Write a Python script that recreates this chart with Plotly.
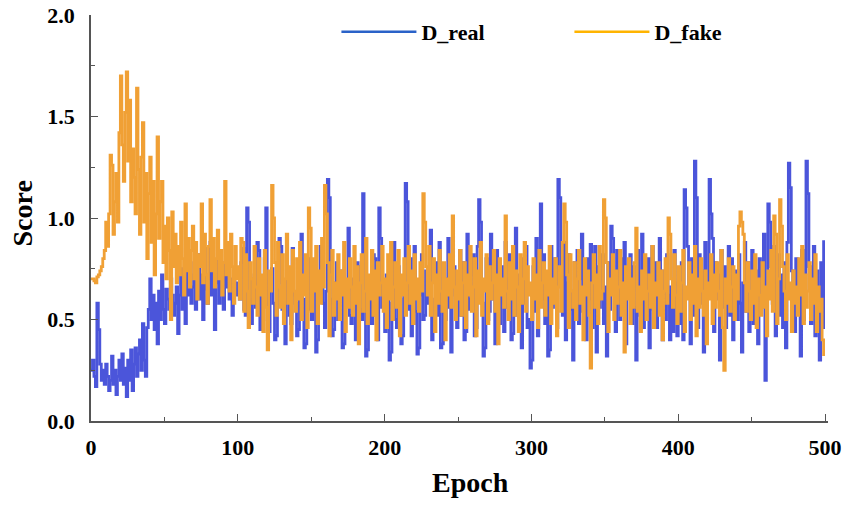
import plotly.graph_objects as go

epochs = list(range(500))

d_real = [
    0.25, 0.30, 0.22, 0.17, 0.58, 0.45, 0.28, 0.20, 0.25, 0.18,
    0.28, 0.22, 0.15, 0.20, 0.32, 0.18, 0.25, 0.13, 0.22, 0.30,
    0.20, 0.33, 0.18, 0.26, 0.12, 0.30, 0.20, 0.35, 0.15, 0.28,
    0.36, 0.22, 0.33, 0.40, 0.25, 0.48, 0.30, 0.22, 0.46, 0.55,
    0.70, 0.50, 0.62, 0.45, 0.58, 0.38, 0.64, 0.50, 0.72, 0.55,
    0.48, 0.65, 0.60, 0.55, 0.70, 0.62, 0.52, 0.58, 0.66, 0.43,
    0.62, 0.75, 0.55, 0.70, 0.48, 0.80, 0.62, 0.72, 0.58, 0.66,
    0.78, 0.55, 0.68, 0.82, 0.60, 0.72, 0.50, 0.85, 0.65, 0.58,
    0.70, 0.88, 0.62, 0.75, 0.45, 0.68, 0.80, 0.58, 0.72, 0.64,
    0.55, 0.78, 0.66, 0.85, 0.60, 0.70, 0.52, 0.75, 0.62, 0.68,
    0.62, 0.60, 0.78, 0.85, 0.55, 0.52, 1.05, 0.98, 0.60, 0.48,
    0.70, 0.72, 0.56, 0.88, 0.84, 0.45, 0.62, 0.66, 0.80, 1.05,
    0.50, 0.44, 0.72, 0.75, 0.58, 0.40, 0.42, 0.68, 0.90, 0.86,
    0.55, 0.60, 0.38, 0.70, 0.74, 0.52, 0.48, 0.85, 0.62, 0.58,
    0.42, 0.45, 0.76, 0.92, 0.60, 0.36, 0.38, 0.66, 0.80, 0.55,
    0.50, 0.72, 0.70, 0.34, 0.40, 0.62, 0.86, 0.82, 0.58, 0.46,
    0.64, 1.19, 1.10, 0.60, 0.42, 0.45, 0.68, 0.78, 0.50, 0.56,
    0.74, 0.36, 0.38, 0.62, 0.66, 0.95, 0.52, 0.48, 0.70, 0.58,
    0.40, 0.78, 0.76, 0.55, 0.50, 1.12, 0.84, 0.32, 0.35, 0.64,
    0.68, 0.48, 0.82, 0.80, 0.52, 0.40, 1.05, 0.90, 0.56, 0.62,
    0.44, 0.72, 0.70, 0.30, 0.34, 0.58, 0.88, 0.50, 0.46, 0.76,
    0.60, 0.38, 0.42, 0.68, 1.17, 1.08, 0.55, 0.80, 0.42, 0.48,
    0.86, 0.54, 0.33, 0.36, 0.62, 0.82, 0.50, 0.52, 0.74, 0.58,
    0.66, 0.94, 0.40, 0.44, 0.60, 0.78, 0.52, 0.88, 0.36, 0.38,
    0.70, 0.50, 0.66, 0.90, 0.56, 0.34, 0.80, 0.76, 0.62, 0.46,
    0.64, 0.84, 0.52, 0.78, 0.40, 0.44, 0.92, 0.55, 0.60, 0.72,
    0.82, 0.42, 0.46, 0.86, 1.09, 0.98, 0.58, 0.32, 0.36, 0.80,
    0.50, 0.54, 0.92, 0.60, 0.74, 0.38, 0.84, 0.62, 0.48, 0.76,
    0.58, 0.44, 0.88, 0.56, 0.70, 0.82, 0.40, 0.43, 0.62, 0.95,
    0.52, 0.72, 0.66, 0.36, 0.80, 0.58, 0.86, 0.46, 0.50, 0.26,
    0.30, 0.76, 0.54, 0.90, 0.42, 0.70, 1.07, 0.60, 0.82, 0.48,
    0.66, 0.32, 0.35, 0.86, 0.56, 0.62, 0.80, 0.46, 1.19, 1.10,
    0.72, 0.52, 0.88, 0.40, 0.68, 0.82, 0.55, 0.64, 0.30, 0.78,
    0.58, 0.84, 0.48, 0.70, 0.92, 0.54, 0.66, 0.40, 0.80, 0.60,
    0.87, 0.46, 0.68, 0.86, 0.34, 0.76, 0.56, 0.62, 0.82, 0.48,
    0.66, 0.32, 0.78, 0.55, 0.96, 0.90, 0.72, 0.44, 0.84, 0.64,
    0.50, 0.80, 0.58, 0.88, 0.38, 0.70, 0.62, 0.82, 0.48, 0.76,
    0.56, 0.30, 0.84, 0.66, 0.52, 0.92, 0.46, 0.72, 0.60, 0.80,
    0.36, 0.68, 0.86, 0.55, 0.78, 0.46, 0.64, 0.90, 0.58, 0.40,
    0.74, 0.50, 0.82, 0.62, 0.40, 0.66, 0.44, 0.84, 0.56, 0.42,
    0.68, 0.48, 0.78, 0.40, 1.14, 1.05, 0.86, 0.62, 0.38, 0.80,
    0.52, 1.28, 1.10, 0.46, 0.82, 0.58, 0.74, 0.34, 0.88, 0.50,
    0.64, 1.19, 1.02, 0.90, 0.44, 0.78, 0.60, 0.72, 0.30, 0.84,
    0.56, 0.76, 0.46, 0.66, 0.86, 0.52, 0.80, 0.40, 0.62, 0.74,
    0.50, 0.82, 0.58, 0.34, 0.68, 0.88, 0.54, 0.78, 0.44, 0.64,
    0.84, 0.48, 0.74, 0.60, 0.38, 0.80, 0.56, 0.70, 0.92, 0.20,
    0.62, 1.07, 0.98, 0.76, 0.58, 0.86, 0.42, 0.66, 0.82, 0.52,
    0.72, 0.46, 0.78, 0.36, 0.88, 1.27, 1.15, 0.74, 0.62, 0.44,
    0.80, 0.56, 0.70, 0.32, 0.84, 0.50, 0.64, 1.28, 1.12, 0.76,
    0.48, 0.68, 0.86, 0.42, 0.74, 0.55, 0.30, 0.78, 0.46, 0.89,
]

d_fake = [
    0.70, 0.70, 0.69, 0.68, 0.71, 0.72, 0.74, 0.76, 0.80, 0.84,
    0.98, 0.86, 1.02, 1.31, 1.26, 0.92, 1.08, 1.22, 0.98, 1.42,
    1.70, 1.36, 1.18, 1.52, 1.72, 1.28, 1.58, 1.08, 1.34, 1.20,
    1.02, 1.64, 1.24, 0.92, 1.30, 1.47, 0.98, 1.22, 0.80, 1.12,
    1.30, 0.88, 1.18, 0.72, 1.02, 1.40, 0.90, 1.08, 1.18, 0.78,
    0.96, 0.70, 1.00, 0.84, 0.50, 1.03, 0.76, 0.92, 0.68, 0.86,
    0.72, 0.98, 0.80, 0.62, 1.07, 0.74, 0.90, 0.66, 0.84, 0.96,
    0.70, 0.88, 0.60, 0.82, 0.76, 1.07, 0.68, 0.92, 0.72, 0.58,
    0.86, 1.09, 0.74, 0.90, 0.66, 0.80, 0.94, 0.70, 0.84, 0.62,
    0.78, 1.18, 0.72, 0.88, 0.64, 0.92, 0.76, 0.58, 0.86, 0.70,
    0.76, 0.60, 0.90, 0.88, 0.54, 0.82, 0.64, 0.46, 0.78, 0.70,
    0.58, 0.86, 0.66, 0.52, 0.80, 0.62, 0.72, 0.44, 0.84, 0.56,
    0.35, 0.74, 0.64, 1.16, 1.00, 0.78, 0.52, 0.88, 0.66, 0.56,
    0.82, 0.48, 0.70, 0.92, 0.58, 0.76, 0.40, 0.84, 0.64, 0.54,
    0.80, 0.60, 0.88, 0.50, 0.72, 0.62, 0.82, 0.46, 1.05, 0.95,
    0.54, 0.80, 0.64, 0.86, 0.48, 0.74, 0.58, 0.90, 0.66, 1.16,
    1.02, 0.78, 0.42, 0.72, 0.84, 0.52, 0.68, 0.60, 0.82, 0.50,
    0.74, 0.62, 0.88, 0.44, 0.70, 0.56, 0.80, 0.66, 0.52, 0.86,
    0.58, 0.76, 0.38, 0.68, 0.82, 0.54, 0.64, 0.90, 0.48, 0.72,
    0.60, 0.84, 0.52, 0.74, 0.40, 0.78, 0.62, 0.68, 0.86, 0.54,
    0.70, 0.46, 0.82, 0.60, 0.88, 0.50, 0.66, 0.78, 0.56, 0.84,
    0.42, 0.72, 0.62, 0.80, 0.52, 0.68, 0.86, 0.58, 0.74, 0.48,
    0.82, 0.60, 0.70, 0.54, 0.78, 0.64, 1.12, 0.98, 0.76, 0.62,
    0.86, 0.52, 0.68, 0.80, 0.44, 0.72, 0.58, 0.84, 0.64, 0.54,
    0.78, 0.40, 0.70, 0.62, 0.82, 0.56, 1.01, 0.66, 0.50, 0.74,
    0.60, 0.84, 0.52, 0.68, 0.78, 0.46, 0.72, 0.62, 0.86, 0.54,
    0.66, 0.80, 0.42, 0.74, 0.58, 0.88, 0.52, 0.70, 0.64, 0.82,
    0.48, 0.76, 0.60, 0.68, 0.84, 0.54, 0.72, 0.38, 0.80, 0.62,
    0.70, 0.56, 1.01, 0.64, 0.50, 0.78, 0.60, 0.86, 0.52, 0.74,
    0.66, 0.44, 0.82, 0.58, 0.70, 0.88, 0.54, 0.76, 0.62, 0.68,
    0.50, 0.80, 0.60, 0.72, 0.46, 0.84, 0.56, 0.68, 0.78, 0.52,
    0.74, 0.62, 0.86, 0.48, 0.70, 0.58, 0.80, 0.42, 0.66, 0.76,
    0.54, 0.88, 1.07, 0.98, 0.72, 0.46, 0.82, 0.64, 0.56, 0.78,
    0.50, 0.70, 0.84, 0.58, 0.66, 0.40, 0.80, 0.62, 0.74, 0.52,
    0.26, 0.68, 0.82, 0.56, 0.72, 0.48, 0.86, 0.60, 0.64, 1.09,
    1.00, 0.78, 0.44, 0.70, 0.62, 0.82, 0.50, 0.74, 0.58, 0.66,
    0.84, 0.52, 0.68, 0.34, 0.76, 0.60, 0.80, 0.48, 0.70, 0.56,
    0.78, 0.95, 0.54, 0.66, 0.44, 0.74, 0.60, 0.82, 0.50, 0.64,
    0.72, 0.56, 0.86, 0.46, 0.68, 0.62, 0.78, 0.52, 0.74, 0.40,
    0.64, 0.80, 0.58, 1.00, 0.92, 0.70, 0.56, 0.82, 0.62, 0.48,
    0.76, 0.54, 0.68, 0.84, 0.44, 0.66, 0.60, 0.78, 0.50, 0.72,
    0.58, 0.86, 0.42, 0.70, 0.56, 0.80, 0.64, 0.52, 0.74, 0.38,
    0.68, 0.60, 0.82, 0.48, 0.72, 0.56, 0.78, 0.64, 0.52, 0.84,
    0.46, 0.25, 0.70, 0.58, 0.80, 0.54, 0.66, 0.76, 0.50, 0.72,
    0.60, 0.96, 1.03, 0.98, 0.92, 0.68, 0.54, 0.78, 0.64, 0.50,
    0.74, 0.58, 0.82, 0.46, 0.70, 0.62, 0.52, 0.78, 0.56, 0.66,
    0.42, 0.74, 0.60, 0.84, 0.54, 1.01, 0.92, 0.48, 0.70, 1.09,
    0.96, 0.76, 0.64, 0.50, 0.82, 0.60, 0.68, 0.44, 0.74, 0.58,
    0.66, 0.52, 0.80, 0.62, 0.86, 0.48, 0.72, 0.56, 0.64, 0.78,
    0.50, 0.70, 0.58, 0.82, 0.44, 0.66, 0.54, 0.60, 0.40, 0.32,
]

x_ticks = [0, 100, 200, 300, 400, 500]
y_ticks = [0.0, 0.5, 1.0, 1.5, 2.0]

BLUE_LINE = "#4b55da"
ORANGE_LINE = "#f0a035"
BLUE_LEG = "#2a62c8"
ORANGE_LEG = "#ffb400"
FONT = "Liberation Serif"

fig = go.Figure()
fig.add_trace(go.Scatter(x=epochs, y=d_real, mode="lines", line=dict(color=BLUE_LINE, width=2.8, shape="hv"),
                         showlegend=False))
fig.add_trace(go.Scatter(x=epochs, y=d_fake, mode="lines", line=dict(color=ORANGE_LINE, width=2.8, shape="hv"),
                         showlegend=False))
fig.add_trace(go.Scatter(x=[None], y=[None], mode="lines", name="D_real", line=dict(color=BLUE_LEG, width=2.5)))
fig.add_trace(go.Scatter(x=[None], y=[None], mode="lines", name="D_fake", line=dict(color=ORANGE_LEG, width=2.5)))

axis_common = dict(
    showline=True, linecolor="#555555", linewidth=1.5, mirror=False,
    showgrid=False, zeroline=False, automargin=False,
    ticks="inside", ticklen=7, tickwidth=1.3, tickcolor="#555555",
    tickfont=dict(family=FONT, size=22, color="black", weight="bold"),
)

fig.update_xaxes(
    range=[0, 502], tickvals=x_ticks, ticktext=[str(v) for v in x_ticks],
    minor=dict(ticks="inside", ticklen=4, tickwidth=1.2, tickcolor="#555555", dtick=50, tick0=0),
    ticklabelstandoff=6,
    **axis_common,
)
fig.update_yaxes(
    range=[0, 2.0], tickvals=y_ticks, ticktext=["%.1f" % v for v in y_ticks],
    minor=dict(ticks="inside", ticklen=4, tickwidth=1.2, tickcolor="#555555", dtick=0.25, tick0=0),
    ticklabelstandoff=10,
    **axis_common,
)

title_font = dict(family=FONT, size=28, color="black", weight="bold")
fig.add_annotation(text="Epoch", xref="paper", yref="paper", x=0.5156, y=-0.152,
                   xanchor="center", yanchor="middle", showarrow=False, font=title_font)
fig.add_annotation(text="Score", xref="paper", yref="paper", x=-0.0923, y=0.511,
                   xanchor="center", yanchor="middle", showarrow=False, font=title_font, textangle=-90)

fig.update_layout(
    width=846, height=505,
    margin=dict(l=91, r=18, t=14, b=84),
    plot_bgcolor="white", paper_bgcolor="white",
    legend=dict(orientation="h", x=0.333, y=0.956, xanchor="left", yanchor="middle",
                font=dict(family=FONT, size=22, color="black", weight="bold"),
                itemwidth=75, entrywidth=143, bgcolor="rgba(0,0,0,0)"),
)

fig.write_html("out.html")
